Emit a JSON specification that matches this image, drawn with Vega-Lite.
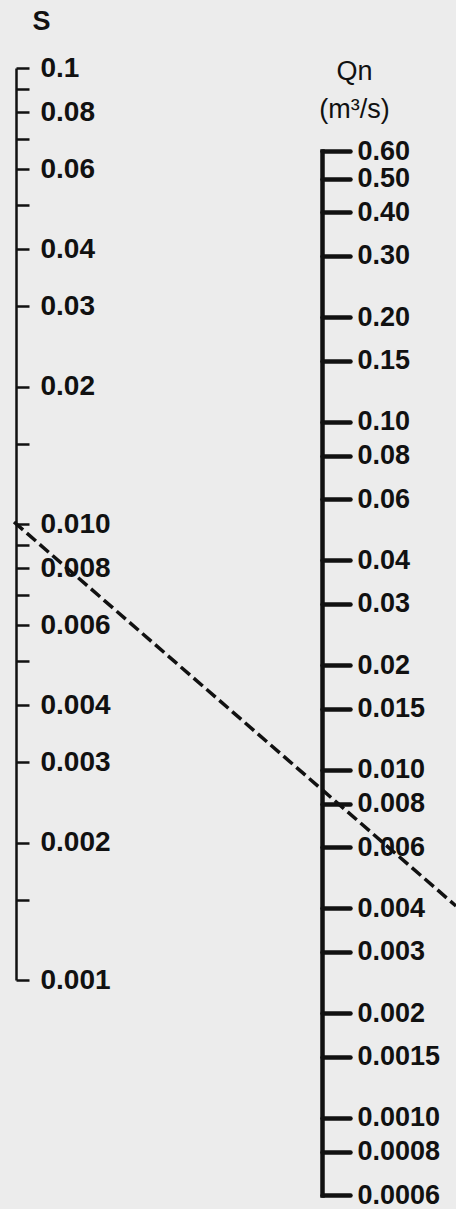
{
  "$schema": "https://vega.github.io/schema/vega-lite/v6.json",
  "width": 456,
  "height": 1209,
  "padding": 0,
  "autosize": {"type": "none"},
  "background": "#ececec",
  "config": {
    "view": {"stroke": null},
    "axis": {
      "grid": false,
      "labelFont": "Liberation Sans",
      "labelFontWeight": "bold",
      "labelColor": "#111111",
      "domainColor": "#111111",
      "tickColor": "#111111",
      "titleColor": "#111111",
      "labelOverlap": false,
      "labelBound": false,
      "labelFlush": false,
      "labelAlign": "left",
      "labelBaseline": "middle"
    }
  },
  "datasets": {
    "line": [
      {"x": 14, "S": 0.0101},
      {"x": 456, "S": 0.001453}
    ],
    "qn": [
      {"Qn": 0.6}, {"Qn": 0.5}, {"Qn": 0.4}, {"Qn": 0.3}, {"Qn": 0.2}, {"Qn": 0.15},
      {"Qn": 0.1}, {"Qn": 0.08}, {"Qn": 0.06}, {"Qn": 0.04}, {"Qn": 0.03}, {"Qn": 0.02},
      {"Qn": 0.015}, {"Qn": 0.01}, {"Qn": 0.008}, {"Qn": 0.006}, {"Qn": 0.004}, {"Qn": 0.003},
      {"Qn": 0.002}, {"Qn": 0.0015}, {"Qn": 0.001}, {"Qn": 0.0008}, {"Qn": 0.0006}
    ]
  },
  "layer": [
    {
      "data": {"name": "line"},
      "mark": {"type": "line", "strokeDash": [12, 5], "strokeWidth": 3.5, "color": "#111111"},
      "encoding": {
        "x": {"field": "x", "type": "quantitative", "scale": {"domain": [0, 456], "range": [0, 456], "nice": false, "zero": false}, "axis": null},
        "y": {
          "field": "S",
          "type": "quantitative",
          "scale": {"type": "log", "domain": [0.001, 0.1], "range": [980, 68]},
          "axis": {
            "orient": "right",
            "offset": -440,
            "values": [0.1, 0.09, 0.08, 0.07, 0.06, 0.05, 0.04, 0.03, 0.02, 0.015, 0.01, 0.009, 0.008, 0.007, 0.006, 0.005, 0.004, 0.003, 0.002, 0.0015, 0.001],
            "labelExpr": "indexof(['0.1','0.08','0.06','0.04','0.03','0.02','0.004','0.003','0.002','0.001'], format(datum.value,'.4~f')) >= 0 ? format(datum.value,'.4~f') : (indexof(['0.01','0.008','0.006'], format(datum.value,'.4~f')) >= 0 ? format(datum.value,'.3f') : '')",
            "tickSize": 13,
            "tickWidth": 2.5,
            "domainWidth": 2.5,
            "labelPadding": 11,
            "labelFontSize": 28,
            "title": "S",
            "titleFont": "Liberation Sans",
            "titleFontWeight": "bold",
            "titleFontSize": 27,
            "titleAngle": 0,
            "titleX": 25,
            "titleY": 21,
            "titleAlign": "center",
            "titleBaseline": "middle"
          }
        }
      }
    },
    {
      "data": {"name": "qn"},
      "mark": {"type": "point", "opacity": 0},
      "encoding": {
        "x": {"datum": 322, "type": "quantitative"},
        "y": {
          "field": "Qn",
          "type": "quantitative",
          "scale": {"type": "log", "domain": [0.0006, 0.6], "range": [1195, 151]},
          "axis": {
            "orient": "right",
            "offset": -134,
            "values": [0.6, 0.5, 0.4, 0.3, 0.2, 0.15, 0.1, 0.08, 0.06, 0.04, 0.03, 0.02, 0.015, 0.01, 0.008, 0.006, 0.004, 0.003, 0.002, 0.0015, 0.001, 0.0008, 0.0006],
            "labelExpr": "datum.value > 0.019 ? format(datum.value,'.2f') : (datum.value > 0.0019 ? format(datum.value,'.3f') : format(datum.value,'.4f'))",
            "tickSize": 28,
            "tickWidth": 4.5,
            "tickCap": "round",
            "domainWidth": 4.5,
            "domainCap": "square",
            "labelPadding": 7,
            "labelFontSize": 27,
            "title": ["Qn", "(m³/s)"],
            "titleFont": "Liberation Sans",
            "titleFontWeight": "normal",
            "titleFontSize": 27,
            "titleLineHeight": 38,
            "titleAngle": 0,
            "titleX": 32,
            "titleY": 71,
            "titleAlign": "center",
            "titleBaseline": "middle"
          }
        }
      }
    }
  ],
  "resolve": {"scale": {"y": "independent"}}
}
